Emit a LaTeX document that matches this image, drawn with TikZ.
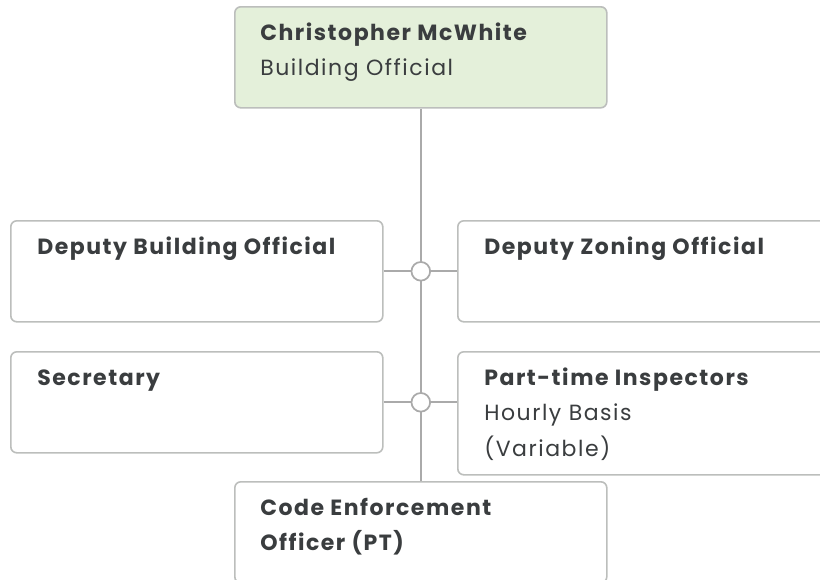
\documentclass[tikz,border=0pt]{standalone}
\usepackage{fontspec}
\setmainfont{Poppins}[LetterSpace=7]
\usetikzlibrary{positioning}
\definecolor{cardgreen}{RGB}{228,240,218}
\definecolor{cardline}{RGB}{188,190,188}
\definecolor{wiregrey}{RGB}{170,170,170}
\definecolor{inkgrey}{RGB}{58,61,63}

\begin{document}
\begin{tikzpicture}[x=0.75pt,y=-0.75pt,
    card/.style={draw=cardline,line width=1.2pt,fill=white,rounded corners=4.5pt,
                 anchor=north west,minimum width=279pt,minimum height=75.75pt,inner sep=0pt},
    cardtext/.style={anchor=north west,align=left,inner sep=0pt,
                     font=\fontsize{16.5}{26.5}\selectfont,text=inkgrey},
    wire/.style={draw=wiregrey,line width=1.3pt},
    junction/.style={circle,draw=wiregrey,fill=white,line width=1.3pt,
                     minimum size=14pt,inner sep=0pt}]
  \useasboundingbox (0,0) rectangle (820,579);
  \clip (0,0) rectangle (820,579);

  %% Boxes
  \node[card,fill=cardgreen] (chief) at (234,6) {};
  \node[card] (dbo) at (10,220) {};
  \node[card] (dzo) at (457,220) {};
  \node[card] (sec) at (10,351) {};
  \node[card,minimum height=92.25pt] (pti) at (457,351) {};
  \node[card] (ceo) at (234,481) {};

  %% Texts
  \node[cardtext] (chief-txt) at ([shift={(26,9.5)}]chief.north west)
        {\strut\textbf{Christopher McWhite}\\Building Official};
  \node[cardtext] (dbo-txt) at ([shift={(27,9.5)}]dbo.north west)
        {\strut\textbf{Deputy Building Official}};
  \node[cardtext] (dzo-txt) at ([shift={(27,9.5)}]dzo.north west)
        {\strut\textbf{Deputy Zoning Official}};
  \node[cardtext] (sec-txt) at ([shift={(27,9.5)}]sec.north west)
        {\strut\textbf{Secretary}};
  \node[cardtext] (pti-txt) at ([shift={(27,9.5)}]pti.north west)
        {\strut\textbf{Part-time Inspectors}\\Hourly Basis\\(Variable)};
  \node[cardtext] (ceo-txt) at ([shift={(26,9.5)}]ceo.north west)
        {\strut\textbf{Code Enforcement}\\\textbf{Officer (PT)}};

  %% Connectors
  \draw[wire] (chief.south) -- (ceo.north);
  \draw[wire] (dbo.east) -- (dzo.west);
  \draw[wire] (sec.east) -- (pti.west |- sec.east);
  \node[junction] (j1) at (chief.south |- dbo.east) {};
  \node[junction] (j2) at (chief.south |- sec.east) {};
\end{tikzpicture}
\end{document}
